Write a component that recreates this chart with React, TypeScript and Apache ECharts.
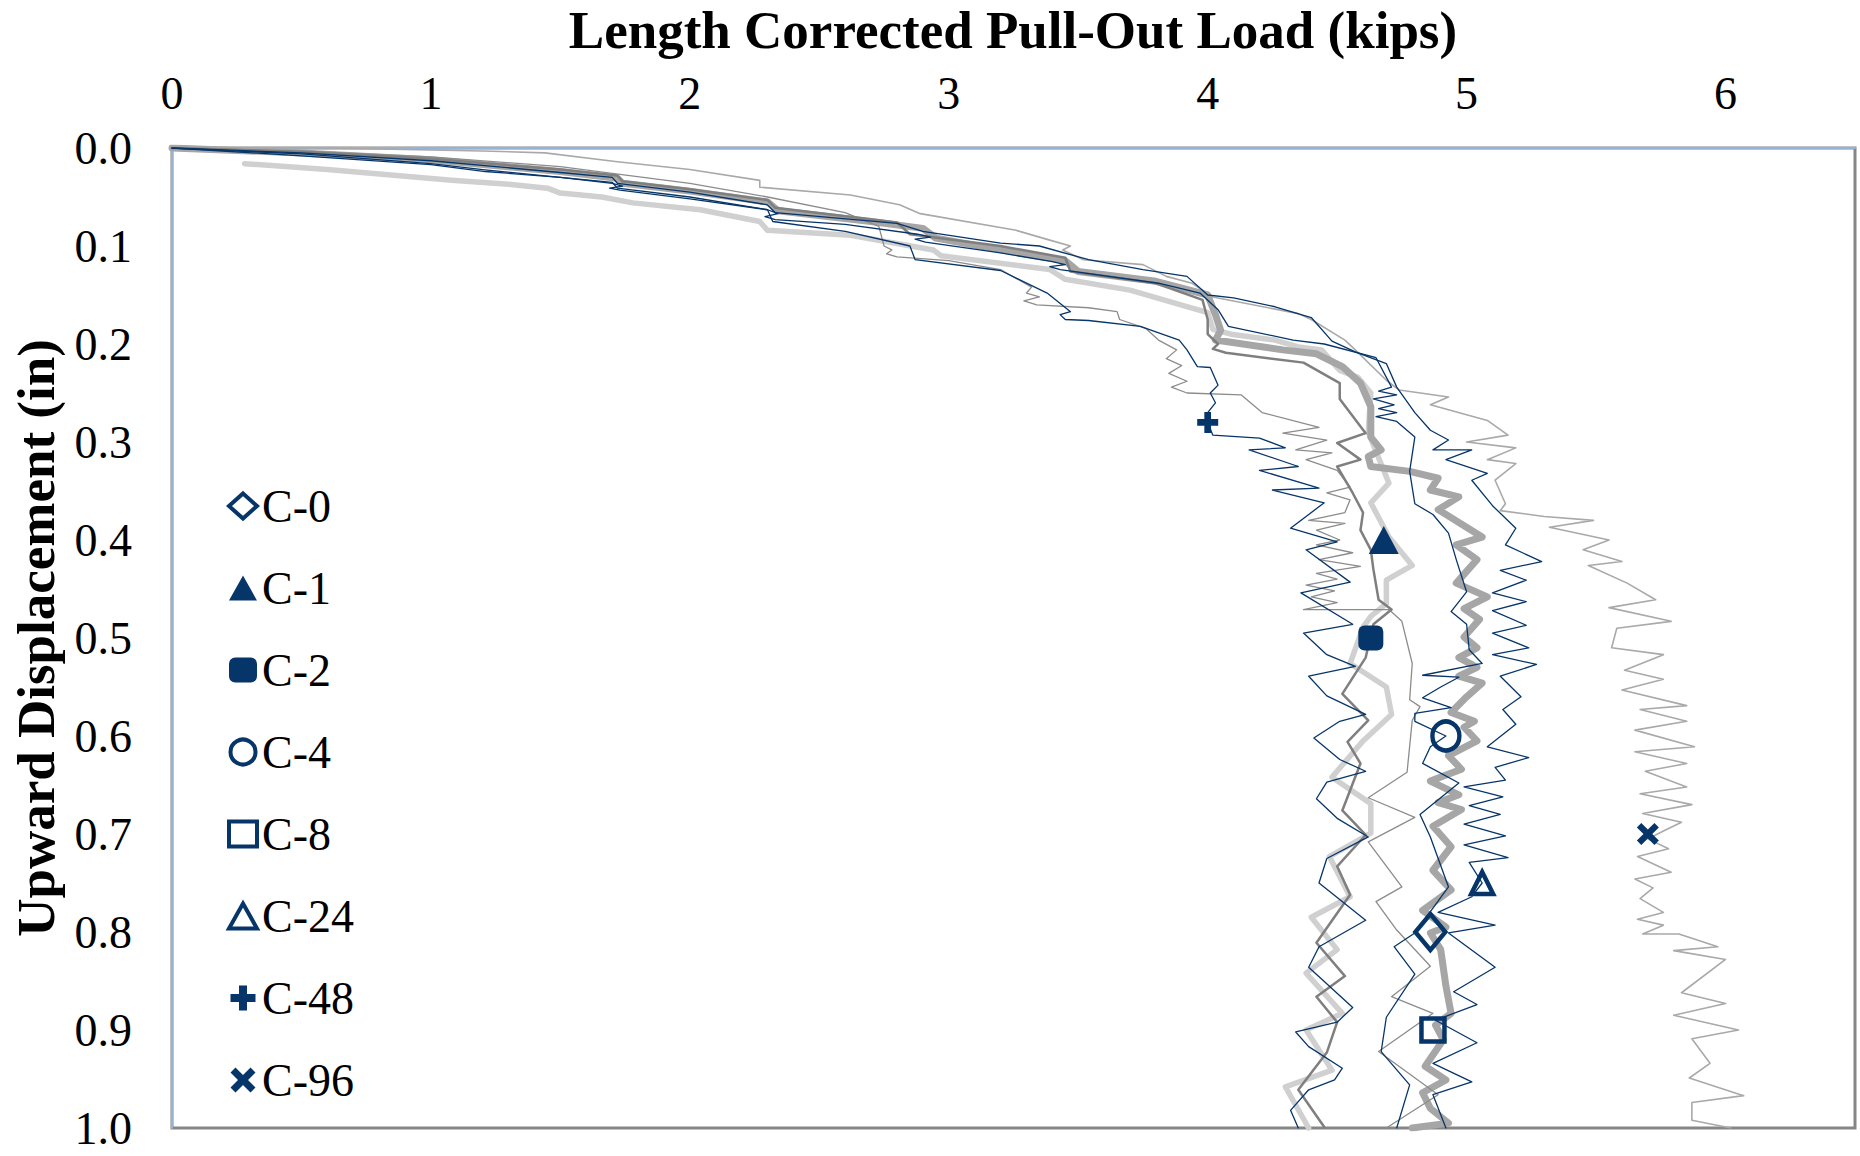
import React, { useEffect, useRef } from "react";
import * as echarts from "echarts";

// ---------- data: [load (kips), upward displacement (in)] ----------
const xTicks = [0, 1, 2, 3, 4, 5, 6];
const seriesNames = ["C-0", "C-1", "C-2", "C-4", "C-8", "C-24", "C-48", "C-96"];

const C0: number[][] = [
  [0, 0], [0.5, 0.005], [1.0, 0.012], [1.5, 0.024], [1.72, 0.031], [1.74, 0.036], [2.0, 0.044], [2.3, 0.055], [2.34, 0.064],
  [2.7, 0.075], [2.9, 0.082], [2.95, 0.092], [3.2, 0.104], [3.45, 0.115], [3.5, 0.126], [3.8, 0.136], [4.0, 0.15], [4.03, 0.17],
  [4.05, 0.186], [4.03, 0.196], [4.29, 0.206], [4.42, 0.21], [4.52, 0.223], [4.59, 0.24], [4.63, 0.264], [4.63, 0.295],
  [4.67, 0.308], [4.62, 0.315], [4.63, 0.325], [4.78, 0.33], [4.89, 0.337], [4.86, 0.349], [4.97, 0.356], [4.89, 0.369],
  [5.06, 0.397], [4.96, 0.405], [5.04, 0.42], [4.96, 0.444], [5.08, 0.458], [4.99, 0.47], [5.05, 0.481], [4.99, 0.499],
  [5.04, 0.51], [4.97, 0.52], [5.04, 0.53], [4.97, 0.539], [5.06, 0.546], [5.0, 0.56], [4.94, 0.576], [5.03, 0.585],
  [4.99, 0.591], [5.04, 0.605], [4.93, 0.62], [4.98, 0.634], [4.86, 0.646], [4.97, 0.66], [4.89, 0.668], [4.98, 0.675],
  [4.87, 0.692], [4.94, 0.713], [4.87, 0.737], [4.94, 0.757], [4.83, 0.778], [4.92, 0.795], [4.86, 0.801], [4.9, 0.818],
  [4.92, 0.855], [4.94, 0.883], [4.88, 0.895], [4.91, 0.91], [4.84, 0.937], [4.92, 0.951], [4.83, 0.964], [4.86, 0.98],
  [4.93, 0.995], [4.79, 1.0],
];

const C1: number[][] = [
  [0, 0], [0.5, 0.004], [1.0, 0.011], [1.5, 0.022], [1.72, 0.028], [1.74, 0.034], [2.0, 0.042], [2.3, 0.053], [2.33, 0.061],
  [2.8, 0.076], [2.85, 0.088], [3.2, 0.1], [3.45, 0.112], [3.47, 0.126], [3.8, 0.138], [3.98, 0.155], [4.0, 0.175], [4.0, 0.19],
  [4.04, 0.2], [4.02, 0.205], [4.07, 0.209], [4.37, 0.219], [4.51, 0.24], [4.51, 0.256], [4.61, 0.291], [4.5, 0.301],
  [4.59, 0.318], [4.5, 0.325], [4.56, 0.352], [4.6, 0.372], [4.59, 0.39], [4.63, 0.41], [4.64, 0.43], [4.66, 0.461],
  [4.71, 0.471], [4.64, 0.486], [4.61, 0.52], [4.52, 0.557], [4.62, 0.584], [4.54, 0.606], [4.59, 0.628], [4.52, 0.676],
  [4.61, 0.701], [4.5, 0.733], [4.55, 0.762], [4.42, 0.811], [4.53, 0.845], [4.42, 0.866], [4.5, 0.892], [4.46, 0.923],
  [4.35, 0.961], [4.45, 0.999],
];

const C2: number[][] = [
  [0.28, 0.016], [0.6, 0.022], [1.08, 0.033], [1.3, 0.037], [1.45, 0.041], [1.5, 0.046], [1.66, 0.05], [1.78, 0.056],
  [2.04, 0.063], [2.27, 0.075], [2.3, 0.084], [2.62, 0.089], [2.94, 0.104], [2.97, 0.11], [3.39, 0.124], [3.45, 0.134],
  [3.7, 0.145], [4.0, 0.168], [4.02, 0.185], [4.09, 0.19], [4.26, 0.196], [4.35, 0.203], [4.44, 0.206], [4.51, 0.227],
  [4.58, 0.234], [4.63, 0.25], [4.62, 0.29], [4.7, 0.342], [4.63, 0.362], [4.7, 0.397], [4.79, 0.426], [4.69, 0.441],
  [4.69, 0.465], [4.63, 0.478], [4.6, 0.489], [4.55, 0.526], [4.69, 0.55], [4.71, 0.578], [4.6, 0.605], [4.48, 0.642],
  [4.63, 0.669], [4.63, 0.699], [4.47, 0.723], [4.55, 0.764], [4.4, 0.785], [4.5, 0.818], [4.38, 0.842], [4.52, 0.883],
  [4.38, 0.9], [4.48, 0.941], [4.3, 0.958], [4.39, 1.0],
];

const C4: number[][] = [
  [0, 0], [0.5, 0.008], [1.0, 0.017], [1.21, 0.024], [1.5, 0.03], [1.7, 0.036], [1.74, 0.039], [1.69, 0.041], [1.73, 0.043],
  [2.0, 0.052], [2.3, 0.063], [2.34, 0.067], [2.29, 0.07], [2.33, 0.073], [2.6, 0.078], [2.88, 0.088], [2.93, 0.091],
  [2.87, 0.093], [2.91, 0.096], [3.2, 0.107], [3.4, 0.116], [3.45, 0.119], [3.39, 0.121], [3.43, 0.124], [3.81, 0.138],
  [3.97, 0.148], [4.04, 0.165], [4.08, 0.182], [4.33, 0.196], [4.45, 0.2], [4.65, 0.214], [4.71, 0.244], [4.66, 0.248],
  [4.73, 0.252], [4.64, 0.256], [4.72, 0.262], [4.66, 0.266], [4.73, 0.27], [4.65, 0.274], [4.73, 0.279], [4.8, 0.295],
  [4.78, 0.33], [4.8, 0.363], [4.87, 0.374], [4.93, 0.393], [4.96, 0.42], [5.0, 0.453], [4.94, 0.473], [5.0, 0.486],
  [5.01, 0.512], [5.06, 0.526], [4.83, 0.538], [4.97, 0.54], [4.9, 0.55], [4.83, 0.561], [4.94, 0.571], [4.8, 0.577],
  [4.8, 0.585], [4.92, 0.6], [4.86, 0.611], [4.83, 0.628], [4.97, 0.648], [4.82, 0.68], [4.86, 0.703], [4.93, 0.754],
  [4.8, 0.801], [4.72, 0.815], [4.8, 0.843], [4.69, 0.887], [4.67, 0.922], [4.78, 0.956], [4.73, 1.0],
];

const C8: number[][] = [
  [0, 0], [0.5, 0.003], [1.0, 0.009], [1.5, 0.019], [1.7, 0.026], [2.0, 0.036], [2.3, 0.05], [2.6, 0.066], [2.73, 0.08],
  [2.75, 0.1], [2.78, 0.104], [2.76, 0.108], [2.8, 0.111], [3.0, 0.115], [3.2, 0.124], [3.32, 0.142], [3.3, 0.148],
  [3.35, 0.152], [3.29, 0.156], [3.34, 0.16], [3.54, 0.163], [3.65, 0.167], [3.66, 0.175], [3.76, 0.184], [3.81, 0.196],
  [3.88, 0.206], [3.84, 0.215], [3.9, 0.222], [3.85, 0.23], [3.92, 0.238], [3.86, 0.244], [3.92, 0.25], [4.13, 0.252],
  [4.21, 0.27], [4.43, 0.285], [4.29, 0.291], [4.46, 0.298], [4.34, 0.308], [4.48, 0.311], [4.38, 0.318], [4.5, 0.329],
  [4.55, 0.346], [4.46, 0.352], [4.55, 0.359], [4.53, 0.372], [4.39, 0.38], [4.53, 0.383], [4.42, 0.39], [4.51, 0.4],
  [4.42, 0.405], [4.56, 0.413], [4.43, 0.42], [4.59, 0.427], [4.42, 0.434], [4.5, 0.44], [4.38, 0.446], [4.49, 0.452],
  [4.4, 0.458], [4.5, 0.464], [4.37, 0.471], [4.7, 0.471], [4.75, 0.483], [4.79, 0.526], [4.78, 0.563], [4.82, 0.57],
  [4.79, 0.584], [4.77, 0.637], [4.62, 0.663], [4.8, 0.683], [4.62, 0.708], [4.75, 0.754], [4.65, 0.769], [4.73, 0.798],
  [4.86, 0.835], [4.71, 0.866], [4.87, 0.883], [4.66, 0.922], [4.89, 0.966], [4.69, 1.0],
];

const C24: number[][] = [
  [0, 0], [0.5, 0.005], [1.0, 0.013], [1.5, 0.025], [1.7, 0.03], [1.72, 0.036], [2.0, 0.045], [2.3, 0.058], [2.33, 0.066],
  [2.8, 0.077], [2.9, 0.085], [3.2, 0.097], [3.35, 0.1], [3.54, 0.114], [3.75, 0.124], [3.92, 0.131], [4.0, 0.15],
  [4.1, 0.153], [4.26, 0.162], [4.4, 0.173], [4.48, 0.197], [4.57, 0.208], [4.69, 0.22], [4.73, 0.244], [4.8, 0.27],
  [4.86, 0.288], [4.93, 0.298], [4.87, 0.308], [5.02, 0.308], [4.92, 0.318], [5.08, 0.332], [5.02, 0.339], [5.1, 0.365],
  [5.19, 0.388], [5.15, 0.405], [5.29, 0.422], [5.13, 0.431], [5.23, 0.441], [5.1, 0.454], [5.23, 0.463], [5.1, 0.472],
  [5.23, 0.487], [5.1, 0.495], [5.24, 0.51], [5.1, 0.517], [5.27, 0.527], [5.13, 0.539], [5.21, 0.56], [5.14, 0.573],
  [5.19, 0.588], [5.08, 0.611], [5.24, 0.622], [5.11, 0.632], [5.15, 0.645], [4.99, 0.652], [5.14, 0.662], [5.01, 0.671],
  [5.13, 0.68], [4.99, 0.69], [5.15, 0.702], [4.99, 0.711], [5.16, 0.724], [5.01, 0.729], [5.06, 0.75], [5.02, 0.764],
  [4.89, 0.78], [5.11, 0.793], [4.93, 0.801], [5.11, 0.836], [4.95, 0.861], [5.04, 0.874], [4.88, 0.89], [5.04, 0.913],
  [4.87, 0.934], [5.02, 0.953], [4.87, 0.966], [4.92, 1.0],
];

const C48: number[][] = [
  [0, 0], [0.5, 0.006], [1.0, 0.016], [1.2, 0.022], [1.5, 0.03], [1.7, 0.035], [1.72, 0.041], [2.0, 0.05], [2.3, 0.063],
  [2.32, 0.075], [2.6, 0.085], [2.85, 0.1], [2.87, 0.114], [3.2, 0.125], [3.38, 0.148], [3.47, 0.167], [3.43, 0.17],
  [3.45, 0.175], [3.54, 0.176], [3.74, 0.182], [3.89, 0.196], [3.92, 0.206], [3.96, 0.223], [4.01, 0.224], [4.04, 0.242],
  [4.01, 0.25], [4.03, 0.26], [4.0, 0.27], [4.0, 0.28], [4.02, 0.293], [4.2, 0.296], [4.3, 0.306], [4.16, 0.308],
  [4.35, 0.325], [4.2, 0.329], [4.43, 0.347], [4.25, 0.349], [4.45, 0.362], [4.32, 0.388], [4.5, 0.402], [4.38, 0.41],
  [4.55, 0.443], [4.36, 0.454], [4.56, 0.486], [4.37, 0.495], [4.46, 0.517], [4.57, 0.529], [4.39, 0.539], [4.46, 0.559],
  [4.61, 0.578], [4.51, 0.585], [4.41, 0.602], [4.51, 0.624], [4.61, 0.636], [4.46, 0.647], [4.42, 0.664], [4.5, 0.684],
  [4.62, 0.703], [4.46, 0.725], [4.43, 0.75], [4.61, 0.788], [4.43, 0.815], [4.39, 0.836], [4.56, 0.877], [4.5, 0.892],
  [4.34, 0.902], [4.39, 0.917], [4.52, 0.939], [4.49, 0.951], [4.39, 0.961], [4.32, 0.982], [4.35, 1.0],
];

const C96: number[][] = [
  [0, 0], [0.6, 0.0], [1.2, 0.003], [1.44, 0.005], [1.72, 0.014], [2.0, 0.022], [2.27, 0.033], [2.27, 0.04], [2.62, 0.048],
  [2.81, 0.058], [2.89, 0.067], [3.26, 0.084], [3.39, 0.094], [3.47, 0.1], [3.44, 0.104], [3.52, 0.114], [3.75, 0.119],
  [3.84, 0.131], [3.94, 0.138], [4.02, 0.152], [4.35, 0.169], [4.4, 0.175], [4.53, 0.196], [4.57, 0.206], [4.69, 0.237],
  [4.74, 0.247], [4.93, 0.254], [4.86, 0.262], [5.08, 0.278], [5.16, 0.293], [5.0, 0.3], [5.19, 0.306], [5.08, 0.318],
  [5.19, 0.322], [5.11, 0.339], [5.15, 0.363], [5.13, 0.37], [5.3, 0.376], [5.49, 0.38], [5.32, 0.387], [5.55, 0.4],
  [5.45, 0.41], [5.6, 0.422], [5.47, 0.426], [5.62, 0.444], [5.73, 0.461], [5.55, 0.469], [5.79, 0.483], [5.58, 0.49],
  [5.56, 0.51], [5.76, 0.517], [5.61, 0.533], [5.76, 0.542], [5.6, 0.553], [5.85, 0.569], [5.67, 0.573], [5.85, 0.585],
  [5.65, 0.594], [5.88, 0.611], [5.65, 0.616], [5.85, 0.628], [5.69, 0.636], [5.85, 0.652], [5.67, 0.659], [5.87, 0.67],
  [5.68, 0.679], [5.83, 0.688], [5.76, 0.697], [5.7, 0.705], [5.78, 0.715], [5.66, 0.723], [5.79, 0.739], [5.65, 0.746],
  [5.72, 0.755], [5.67, 0.766], [5.76, 0.78], [5.66, 0.787], [5.76, 0.793], [5.68, 0.802], [5.82, 0.802], [5.97, 0.815],
  [5.8, 0.819], [6.0, 0.828], [5.83, 0.862], [6.0, 0.873], [5.8, 0.885], [6.05, 0.9], [5.87, 0.909], [5.94, 0.934],
  [5.86, 0.949], [6.07, 0.967], [5.87, 0.974], [5.87, 0.992], [6.02, 1.0],
];

// single marker per specimen
const markerLoad = [4.86, 4.68, 4.63, 4.92, 4.87, 5.06, 4.0, 5.7];
const markerDisp = [0.8, 0.4, 0.5, 0.6, 0.9, 0.75, 0.28, 0.7];

// ---------- styling ----------
const NAVY = "#06356A";
const FONT = "'Liberation Serif', 'Times New Roman', serif";
const PLUS = "path://M3.4,0H6.6V3.4H10V6.6H6.6V10H3.4V6.6H0V3.4H3.4Z";
const CROSS = "path://M0,2L2,0L5,3L8,0L10,2L7,5L10,8L8,10L5,7L2,10L0,8L3,5Z";

const curves = [
  { data: C2, color: "#D0D0D0", width: 5.5, z: 2 },
  { data: C0, color: "#A6A6A6", width: 7, z: 3 },
  { data: C96, color: "#A9A9A9", width: 1.6, z: 4 },
  { data: C8, color: "#8C8C8C", width: 1.3, z: 4 },
  { data: C1, color: "#7F7F7F", width: 2.5, z: 5 },
  { data: C4, color: NAVY, width: 1.3, z: 6 },
  { data: C24, color: NAVY, width: 1.3, z: 6 },
  { data: C48, color: NAVY, width: 1.3, z: 6 },
];
const curveNames = ["C-2 curve", "C-0 curve", "C-96 curve", "C-8 curve", "C-1 curve", "C-4 curve", "C-24 curve", "C-48 curve"];

const markerStyles = [
  { symbol: "diamond", size: [30, 36], filled: false },
  { symbol: "triangle", size: [30, 28], filled: true },
  { symbol: "roundRect", size: [25, 25], filled: true },
  { symbol: "circle", size: [27, 29], filled: false },
  { symbol: "rect", size: [23, 23], filled: false },
  { symbol: "triangle", size: [22, 22], filled: false },
  { symbol: PLUS, size: [21, 21], filled: true },
  { symbol: CROSS, size: [22, 22], filled: true },
];

export default function App() {
  const ref = useRef<HTMLDivElement>(null);

  useEffect(() => {
    if (!ref.current) return;
    const chart = echarts.init(ref.current, null, { renderer: "svg" });

    const lineSeries = curves.map((c, i) => ({
      type: "line",
      name: curveNames[i],
      data: c.data,
      showSymbol: false,
      symbol: "none",
      silent: true,
      z: c.z,
      lineStyle: { color: c.color, width: c.width, cap: "round", join: "round" },
    }));

    const markerSeries = seriesNames.map((name, i) => {
      const m = markerStyles[i];
      return {
        type: "scatter",
        name,
        data: [[markerLoad[i], markerDisp[i]]],
        symbol: m.symbol,
        symbolSize: m.size,
        symbolKeepAspect: false,
        z: 10,
        itemStyle: m.filled
          ? { color: NAVY, borderWidth: 0, opacity: 1 }
          : { color: "rgba(255,255,255,0)", borderColor: NAVY, borderWidth: 4.5, opacity: 1 },
      };
    });

    const legendData = seriesNames.map((name, i) =>
      markerStyles[i].filled
        ? { name }
        : { name, itemStyle: { color: "rgba(255,255,255,0)", borderColor: NAVY, borderWidth: 4 } }
    );

    chart.setOption({
      animation: false,
      backgroundColor: "#ffffff",
      grid: {
        left: 172,
        top: 148,
        right: 5,
        bottom: 28,
        show: true,
        borderColor: "#868686",
        borderWidth: 3,
        backgroundColor: "#ffffff",
      },
      xAxis: {
        type: "value",
        position: "top",
        min: 0,
        max: 6.5,
        interval: 1,
        axisLine: { show: true, lineStyle: { color: "#95B3D7", width: 2 } },
        axisTick: { show: false },
        splitLine: { show: false },
        axisLabel: {
          margin: 32,
          color: "#000",
          fontFamily: FONT,
          fontSize: 46,
          formatter: (v: number) => (xTicks.includes(v) ? String(v) : ""),
        },
      },
      yAxis: {
        type: "value",
        inverse: true,
        min: 0,
        max: 1,
        interval: 0.1,
        axisLine: { show: true, lineStyle: { color: "#95B3D7", width: 2 } },
        axisTick: { show: false },
        splitLine: { show: false },
        axisLabel: {
          margin: 40,
          color: "#000",
          fontFamily: FONT,
          fontSize: 46,
          formatter: (v: number) => v.toFixed(1),
        },
      },
      legend: {
        data: legendData,
        orient: "vertical",
        left: 222,
        top: 478,
        itemWidth: 28,
        itemHeight: 25,
        itemGap: 36,
        selectedMode: false,
        textStyle: { fontFamily: FONT, fontSize: 46, color: "#000", lineHeight: 46 },
      },
      graphic: [
        {
          type: "text",
          x: 1013,
          y: 30,
          style: {
            text: "Length Corrected Pull-Out Load (kips)",
            fontFamily: FONT,
            fontSize: 53,
            fontWeight: "bold",
            fill: "#000",
            textAlign: "center",
            textVerticalAlign: "middle",
          },
        },
        {
          type: "text",
          x: 36,
          y: 638,
          rotation: Math.PI / 2,
          style: {
            text: "Upward Displacement (in)",
            fontFamily: FONT,
            fontSize: 53,
            fontWeight: "bold",
            fill: "#000",
            textAlign: "center",
            textVerticalAlign: "middle",
          },
        },
      ],
      series: [...lineSeries, ...markerSeries],
    });

    return () => chart.dispose();
  }, []);

  return (
    <div
      ref={ref}
      style={{ position: "fixed", left: 0, top: 0, width: 1860, height: 1156, background: "#fff" }}
    />
  );
}
